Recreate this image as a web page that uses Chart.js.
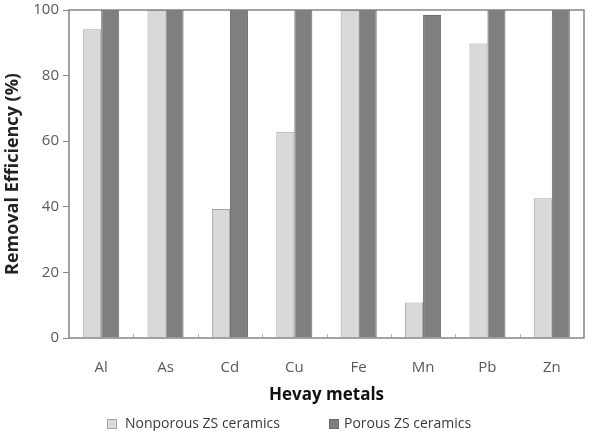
<!DOCTYPE html>
<html>
<head>
<meta charset="utf-8">
<script src="https://cdn.jsdelivr.net/npm/chart.js@4"></script>
<style>
  html, body { margin: 0; padding: 0; background: #ffffff; }
  #wrap { width: 591px; height: 431px; }
</style>
</head>
<body>
<div id="wrap"><canvas id="c" width="591" height="431"></canvas></div>
<script>
const categories = ["Al", "As", "Cd", "Cu", "Fe", "Mn", "Pb", "Zn"];
const nonporous = [94.1, 100, 39.3, 62.9, 100, 10.8, 89.8, 42.6];
const porous = [100, 100, 100, 100, 100, 98.5, 100, 100];
const seriesLabels = ["Nonporous ZS ceramics", "Porous ZS ceramics"];
const yTicks = [0, 20, 40, 60, 80, 100];

const FONT = "'Open Sans', 'Liberation Sans', sans-serif";

const boxPlugin = {
  id: 'boxPlugin',
  afterDraw(chart) {
    const { ctx, chartArea: a } = chart;
    const xs = chart.scales.x;
    ctx.save();
    // small inward tick marks at category boundaries
    ctx.strokeStyle = '#b0b0b0';
    ctx.lineWidth = 1;
    for (let i = 1; i < categories.length; i++) {
      const px = Math.round(xs.getPixelForValue(i - 0.5)) + 0.5;
      ctx.beginPath();
      ctx.moveTo(px, a.bottom);
      ctx.lineTo(px, a.bottom - 4);
      ctx.stroke();
    }
    ctx.strokeStyle = '#858585';
    ctx.lineWidth = 1.5;
    ctx.strokeRect(a.left, a.top, a.right - a.left, a.bottom - a.top);
    // legend
    const ds = chart.data.datasets;
    const items = [{ bx: 107, tx: 125 }, { bx: 329, tx: 344 }];
    const cy = 424;
    ctx.font = "14px " + FONT;
    ctx.textBaseline = 'middle';
    ctx.textAlign = 'left';
    ds.forEach((d, i) => {
      const it = items[i];
      ctx.fillStyle = d.backgroundColor;
      ctx.fillRect(it.bx, cy - 5, 10, 10);
      ctx.strokeStyle = d.borderColor;
      ctx.lineWidth = 1;
      ctx.strokeRect(it.bx + 0.5, cy - 4.5, 9, 9);
      ctx.fillStyle = '#3a3a3a';
      ctx.fillText(d.label, it.tx, cy);
    });
    ctx.restore();
  }
};

new Chart(document.getElementById('c'), {
  type: 'bar',
  data: {
    labels: categories,
    datasets: [
      { label: seriesLabels[0], data: nonporous, backgroundColor: '#d9d9d9', borderColor: '#a6a6a6', borderWidth: 1, categoryPercentage: 0.56, barPercentage: 1.0 },
      { label: seriesLabels[1], data: porous, backgroundColor: '#7f7f7f', borderColor: '#6b6b6b', borderWidth: 1, categoryPercentage: 0.56, barPercentage: 1.0 }
    ]
  },
  options: {
    responsive: false,
    animation: false,
    devicePixelRatio: 1,
    layout: { padding: { top: 10, right: 7, bottom: 26, left: 0 } },
    plugins: { legend: { display: false }, tooltip: { enabled: false } },
    scales: {
      x: {
        grid: { display: false },
        border: { display: false },
        ticks: { color: '#595959', font: { family: FONT, size: 15 }, padding: 13 },
        title: { display: true, text: 'Hevay metals', color: '#111111', font: { family: FONT, size: 17, weight: 'bold' }, padding: { top: 8, bottom: 0 } },
        afterFit(scale) { scale.height = 67; }
      },
      y: {
        min: 0, max: 100,
        afterBuildTicks(scale) { scale.ticks = yTicks.map(v => ({ value: v })); },
        grid: { drawOnChartArea: false, drawTicks: true, tickLength: 6, color: '#858585' },
        border: { display: false },
        ticks: { color: '#595959', font: { family: FONT, size: 15 }, padding: 4 },
        title: { display: true, text: 'Removal Efficiency (%)', color: '#222222', font: { family: FONT, size: 18, weight: 'bold' }, padding: { top: 2, bottom: 3 } },
        afterFit(scale) { scale.width = 69; scale.paddingTop = 0; scale.paddingBottom = 0; }
      }
    }
  },
  plugins: [boxPlugin]
});
</script>
</body>
</html>
